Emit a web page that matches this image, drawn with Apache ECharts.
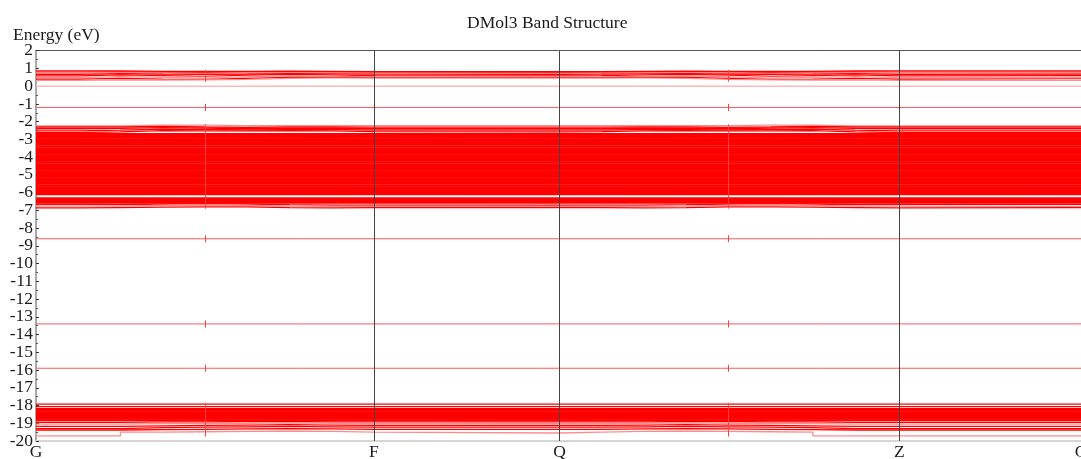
<!DOCTYPE html>
<html>
<head>
<meta charset="utf-8">
<script src="https://cdn.jsdelivr.net/npm/echarts@6/dist/echarts.min.js"></script>
<style>html,body{margin:0;padding:0;background:#fff}#c{width:1081px;height:459px}</style>
</head>
<body>
<div id="c"></div>
<script>
// ---------- data ----------
const chartTitle = 'DMol3 Band Structure';
const yAxisName = 'Energy (eV)';
const kLabels = ['G', 'F', 'Q', 'Z', 'G'];
const kTicks = [0, 8, 12.4, 20.45, 24.75];
const yMin = -20, yMax = 2;
// unlabeled k-points where short red markers cross the bands
const kMarks = [4, 16.4];
// k-path segment edges (G->F 8 steps, F->Q, Q->Z 8 steps, Z->G)
const segEdges = [0, 1, 2, 3, 4, 5, 6, 7, 8, 12.4, 13.4, 14.4, 15.4, 16.4, 17.4, 18.4, 19.4, 20.45, 24.75];

// dispersive bands: one energy per segment (18 values)
const condBands = [
  [0.86,0.86,0.84,0.83,0.84,0.85,0.84,0.82, 0.82, 0.82,0.84,0.85,0.84,0.83,0.84,0.86,0.86, 0.86],
  [0.80,0.81,0.79,0.78,0.80,0.81,0.79,0.78, 0.78, 0.78,0.79,0.81,0.80,0.78,0.79,0.81,0.80, 0.80],
  [0.74,0.76,0.74,0.72,0.72,0.76,0.75,0.74, 0.73, 0.74,0.75,0.76,0.72,0.72,0.74,0.76,0.74, 0.74],
  [0.66,0.71,0.68,0.66,0.68,0.71,0.70,0.68, 0.67, 0.68,0.70,0.71,0.68,0.66,0.68,0.71,0.66, 0.68],
  [0.58,0.64,0.60,0.56,0.62,0.66,0.64,0.60, 0.58, 0.60,0.64,0.66,0.62,0.56,0.60,0.64,0.58, 0.60],
  [0.48,0.54,0.50,0.46,0.52,0.58,0.56,0.52, 0.50, 0.52,0.56,0.58,0.52,0.46,0.50,0.54,0.48, 0.50],
  [0.40,0.44,0.40,0.38,0.44,0.50,0.50,0.48, 0.48, 0.48,0.50,0.50,0.44,0.38,0.40,0.44,0.40, 0.42],
  [0.32,0.36,0.34,0.36,0.38,0.44,0.46,0.46, 0.46, 0.46,0.46,0.44,0.38,0.36,0.34,0.36,0.32, 0.32]
];
const condShade = ['r','r','p','r','r','p','r','p'];

const valenceTop = [
  [-2.24,-2.24,-2.20,-2.20,-2.22,-2.22,-2.22,-2.22, -2.22, -2.22,-2.22,-2.22,-2.22,-2.20,-2.20,-2.24,-2.24, -2.24],
  [-2.30,-2.30,-2.27,-2.30,-2.32,-2.30,-2.30,-2.31, -2.31, -2.31,-2.30,-2.30,-2.32,-2.30,-2.27,-2.30,-2.30, -2.30],
  [-2.40,-2.38,-2.34,-2.36,-2.40,-2.38,-2.37,-2.40, -2.40, -2.40,-2.37,-2.38,-2.40,-2.36,-2.34,-2.38,-2.40, -2.40],
  [-2.52,-2.48,-2.42,-2.44,-2.46,-2.45,-2.44,-2.48, -2.48, -2.48,-2.44,-2.45,-2.46,-2.44,-2.42,-2.48,-2.52, -2.52],
  [-2.62,-2.58,-2.50,-2.52,-2.52,-2.50,-2.52,-2.56, -2.58, -2.56,-2.52,-2.50,-2.52,-2.52,-2.50,-2.58,-2.62, -2.62]
];
const valenceTopShade = ['p','r','r','r','r'];

const valenceDense = [-2.70,-2.80,-2.90,-3.00,-3.10,-3.20,-3.30,-3.40,-3.50,-3.60,-3.70,-3.80,-3.90,-4.00,
  -4.10,-4.20,-4.30,-4.40,-4.50,-4.60,-4.70,-4.80,-4.90,-5.00,-5.10,-5.20,-5.30,-5.40,-5.50,-5.60,
  -5.70,-5.80,-5.90,-6.00,-6.08, -6.32,-6.40,-6.48,-6.56];

const valenceBottom = [
  [-6.66,-6.68,-6.64,-6.62,-6.64,-6.68,-6.70,-6.70, -6.70, -6.70,-6.70,-6.68,-6.64,-6.62,-6.64,-6.68,-6.66, -6.66],
  [-6.76,-6.76,-6.72,-6.70,-6.72,-6.76,-6.78,-6.78, -6.79, -6.78,-6.78,-6.76,-6.72,-6.70,-6.72,-6.76,-6.76, -6.78],
  [-6.86,-6.84,-6.82,-6.80,-6.80,-6.84,-6.86,-6.84, -6.84, -6.84,-6.86,-6.84,-6.80,-6.80,-6.82,-6.84,-6.86, -6.84]
];
const valenceBottomShade = ['r','p','r'];

const fermiLevel = 0.0;
const isolatedBands = [-1.2, -8.6, -13.4, -15.9];

const deepTop = [-17.92, -18.06];
const deepDense = [-18.20, -18.29, -18.38, -18.47, -18.56, -18.65, -18.74, -18.83];
const deepBottom = [
  [-18.95,-18.95,-18.92,-18.92,-18.90,-18.90,-18.92,-18.92, -18.92, -18.92,-18.92,-18.90,-18.90,-18.92,-18.92,-18.95,-18.95, -18.95],
  [-19.05,-19.05,-19.02,-19.00,-19.00,-18.98,-19.00,-19.02, -19.02, -19.02,-19.00,-18.98,-19.00,-19.00,-19.02,-19.05,-19.05, -19.05],
  [-19.18,-19.18,-19.15,-19.12,-19.10,-19.08,-19.10,-19.12, -19.12, -19.12,-19.10,-19.08,-19.10,-19.12,-19.15,-19.18,-19.18, -19.18],
  [-19.30,-19.30,-19.25,-19.22,-19.20,-19.18,-19.20,-19.22, -19.22, -19.22,-19.20,-19.18,-19.20,-19.22,-19.25,-19.30,-19.30, -19.30],
  [-19.38,-19.38,-19.36,-19.34,-19.32,-19.30,-19.32,-19.34, -19.34, -19.34,-19.32,-19.30,-19.32,-19.34,-19.36,-19.38,-19.38, -19.38],
  [-19.71,-19.71,-19.50,-19.48,-19.46,-19.44,-19.46,-19.50, -19.55, -19.50,-19.46,-19.44,-19.46,-19.48,-19.50,-19.71,-19.71, -19.71]
];
const deepBottomShade = ['r','p','r','r','r','p'];

// energy windows crossed by the short red markers at kMarks
const markWindows = [[0.92, 0.25], [-1.0, -1.4], [-2.15, -6.9], [-8.4, -8.8], [-13.2, -13.6], [-15.7, -16.1], [-17.85, -19.75]];

// ---------- chart ----------
const RED = '#ff0000', PINK = '#ff8c8c', LIGHT = '#ffb8b8';
const xMax = kTicks[kTicks.length - 1];
const series = [];

function stepBand(vals, color, width) {
  const d = vals.map((v, i) => [segEdges[i], v]);
  d.push([segEdges[segEdges.length - 1], vals[vals.length - 1]]);
  series.push({ type: 'line', step: 'end', data: d, showSymbol: false, silent: true,
    lineStyle: { color: color, width: width }, z: 2 });
}
function flatBand(e, color, width) {
  series.push({ type: 'line', data: [[0, e], [xMax, e]], showSymbol: false, silent: true,
    lineStyle: { color: color, width: width }, z: 2 });
}
const shade = s => s === 'r' ? RED : PINK;

condBands.forEach((b, i) => stepBand(b, shade(condShade[i]), 1.2));
flatBand(fermiLevel, LIGHT, 1.5);
isolatedBands.forEach(e => flatBand(e, '#ff5a5a', 1));
valenceTop.forEach((b, i) => stepBand(b, shade(valenceTopShade[i]), 1.3));
valenceDense.forEach(e => flatBand(e, RED, 2.2));
valenceBottom.forEach((b, i) => stepBand(b, shade(valenceBottomShade[i]), 1.3));
deepTop.forEach(e => flatBand(e, RED, 1.4));
deepDense.forEach(e => flatBand(e, RED, 2.2));
deepBottom.forEach((b, i) => stepBand(b, shade(deepBottomShade[i]), 1.3));

// short red markers at unlabeled k-points
const markSegs = [];
kMarks.forEach(k => markWindows.forEach(w => markSegs.push([{ coord: [k, w[0]] }, { coord: [k, w[1]] }])));
series.push({ type: 'line', data: [], silent: true,
  markLine: { silent: true, symbol: 'none', label: { show: false },
    lineStyle: { color: '#ff4040', width: 1, type: 'solid' }, data: markSegs }, z: 4 });

// high-symmetry vertical lines
series.push({ type: 'line', data: [], silent: true,
  markLine: { silent: true, symbol: 'none', label: { show: false },
    lineStyle: { color: '#444', width: 1, type: 'solid' },
    data: kTicks.slice(1, -1).map(k => ({ xAxis: k })) }, z: 5 });

const FONT = 'Liberation Serif';
const yLabelStyle = { fontFamily: FONT, fontSize: 17.5, color: '#1a1a1a', margin: 3 };
const chart = echarts.init(document.getElementById('c'), null, { renderer: 'canvas' });
chart.setOption({
  animation: false,
  backgroundColor: '#fff',
  title: [
    { text: chartTitle, left: 462, top: 9,
      textStyle: { fontFamily: FONT, fontSize: 17.5, fontWeight: 'normal', color: '#1a1a1a' } },
    { text: yAxisName, left: 8, top: 21,
      textStyle: { fontFamily: FONT, fontSize: 17.5, fontWeight: 'normal', color: '#1a1a1a' } }
  ],
  grid: { left: 36, right: 0, top: 50.7, bottom: 18, outerBoundsMode: 'none', containLabel: false },
  xAxis: [
    { type: 'value', min: 0, max: xMax, position: 'bottom',
      axisLine: { show: true, onZero: false, lineStyle: { color: '#d6d6d6', width: 2 } },
      axisTick: { show: false }, splitLine: { show: false },
      axisLabel: { customValues: kTicks, formatter: v => kLabels[kTicks.indexOf(v)],
        fontFamily: FONT, fontSize: 17.5, color: '#1a1a1a', margin: 2, hideOverlap: false } },
    { type: 'value', min: 0, max: xMax, position: 'top',
      axisLine: { show: true, onZero: false, lineStyle: { color: '#555', width: 1 } },
      axisTick: { show: false }, axisLabel: { show: false }, splitLine: { show: false } }
  ],
  yAxis: [
    { type: 'value', min: yMin, max: yMax, interval: 1, position: 'left',
      axisLine: { show: true, onZero: false, lineStyle: { color: '#8c8c8c', width: 1.5 } },
      axisTick: { show: true, inside: true, length: 3, lineStyle: { color: '#333' } },
      minorTick: { show: true, splitNumber: 2, length: 2, lineStyle: { color: '#555' } },
      splitLine: { show: false },
      axisLabel: Object.assign({ showMinLabel: false, showMaxLabel: false }, yLabelStyle) },
    { type: 'value', min: yMin, max: yMax, position: 'left', offset: 0,
      axisLine: { show: false, onZero: false }, axisTick: { show: false }, splitLine: { show: false },
      axisLabel: Object.assign({ customValues: [yMin, yMax] }, yLabelStyle) }
  ],
  series: series
});
</script>
</body>
</html>
